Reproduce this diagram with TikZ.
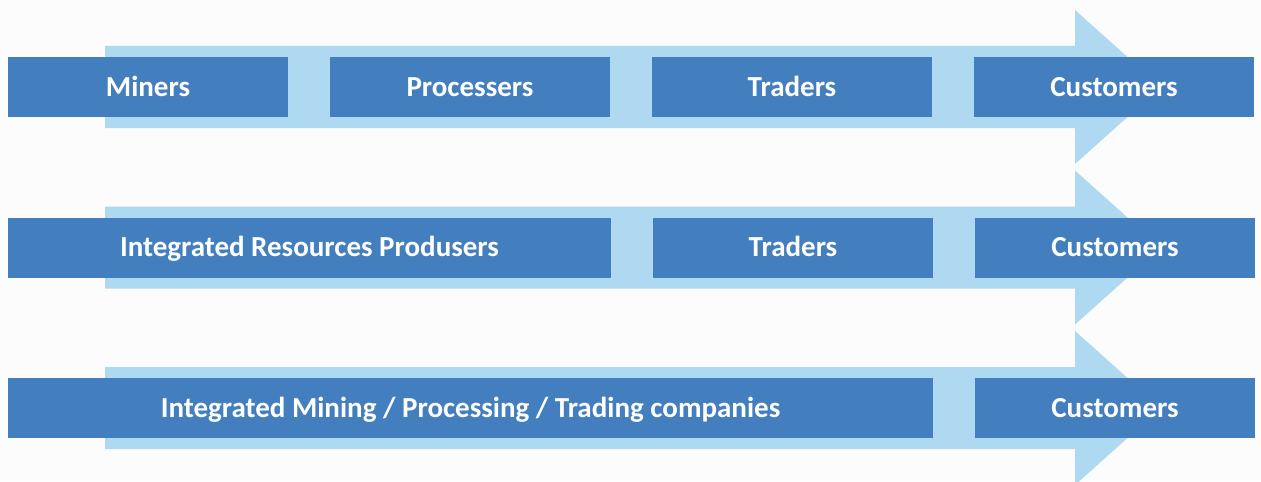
\documentclass[tikz,border=0pt]{standalone}
\usepackage{fontspec}
\setmainfont{Carlito}
\usetikzlibrary{positioning}
\definecolor{chainblue}{RGB}{67,126,191}
\definecolor{chainlight}{RGB}{174,217,240}
\tikzset{
  stage/.style={fill=chainblue, text=white, font=\bfseries\fontsize{14.5}{17}\selectfont,
    minimum height=30pt, minimum width=140pt, inner sep=0pt, outer sep=0pt,
    text height=9.3pt, text depth=0pt},
  flow/.style={fill=chainlight}
}
\begin{document}
\begin{tikzpicture}[x=0.5pt,y=-0.5pt]
                \clip (0,0) rectangle (1261,481);
                \fill[white!98!gray] (0,0) rectangle (1261,481);
                \foreach \y in {87,247.5,408}
                  \fill[flow] (105,\y-41) -- (1075,\y-41) -- (1075,\y-77) -- (1161,\y)
                    -- (1075,\y+77) -- (1075,\y+41) -- (105,\y+41) -- cycle;
                % first chain
                \node[stage, anchor=west] (miners) at (8,87) {Miners};
                \node[stage, right=21pt of miners] (processers) {Processers};
                \node[stage, right=21pt of processers] (traders) {Traders};
                \node[stage, right=21pt of traders] (customers) {Customers};
                % second chain
                \node[stage, anchor=west, minimum width=301.5pt] (producers) at (8,247.5) {Integrated Resources Produsers};
                \node[stage, right=21pt of producers] (traders2) {Traders};
                \node[stage, right=21pt of traders2] (customers2) {Customers};
                % third chain
                \node[stage, anchor=west, minimum width=462.5pt] (integrated) at (8,408) {Integrated Mining / Processing / Trading companies};
                \node[stage, right=21pt of integrated] (customers3) {Customers};
\end{tikzpicture}
\end{document}
